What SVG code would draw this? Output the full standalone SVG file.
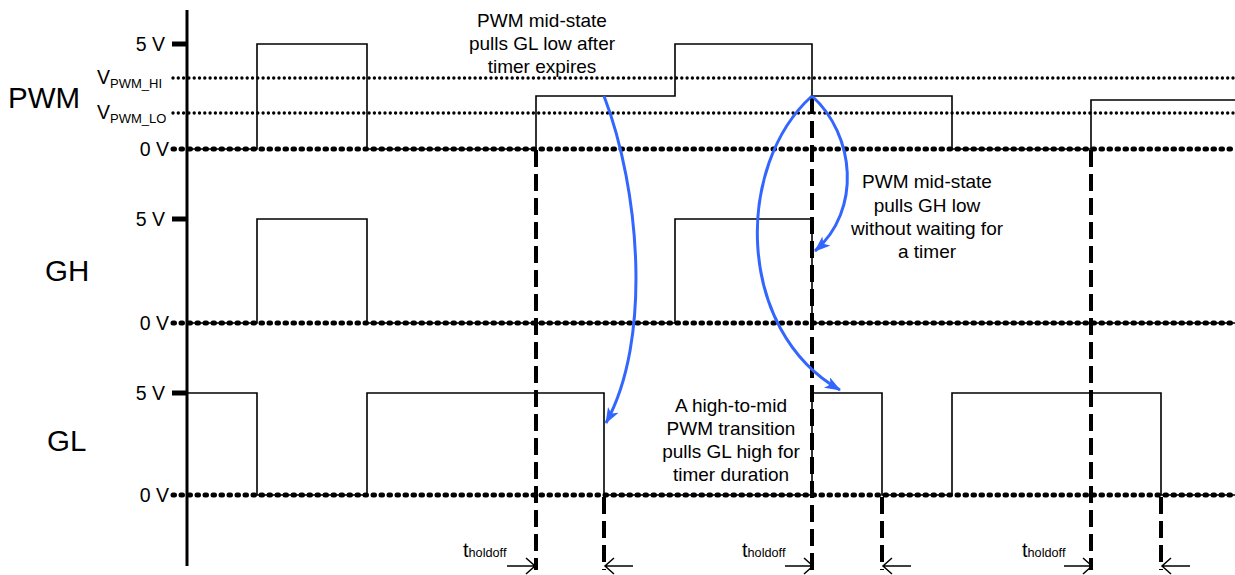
<svg xmlns="http://www.w3.org/2000/svg" width="1235" height="575" viewBox="0 0 1235 575">
<style>
text{font-family:"Liberation Sans",Arial,sans-serif;fill:#000}
.big{font-size:29.5px}
.lv{font-size:19.5px;text-anchor:end}
.note{font-size:19px;text-anchor:middle}
.sub{font-size:13px}
.thickdot{stroke:#000;stroke-width:5;stroke-dasharray:1.5 6.5;stroke-linecap:round;fill:none}
.thindot{stroke:#000;stroke-width:3.4;stroke-dasharray:0 5.3;stroke-linecap:round;fill:none}
.sig{stroke:#000;stroke-width:1.6;fill:none}
.dash{stroke:#000;stroke-width:4;stroke-dasharray:17 7;fill:none}
.tick{stroke:#000;stroke-width:5;fill:none}
.blue{stroke:#3366ff;stroke-width:3;fill:none;marker-end:url(#bh)}
.dim{stroke:#000;stroke-width:1.5;fill:none}
</style>
<defs>
<marker id="bh" markerUnits="userSpaceOnUse" markerWidth="18" markerHeight="14" refX="15" refY="6" orient="auto">
<path d="M0,0 L16,6 L0,12 L4,6 z" fill="#3366ff"/>
</marker>
</defs>

<g id="axis">
<line x1="187" y1="10" x2="187" y2="566" stroke="#000" stroke-width="3"/>
</g>

<g id="levels">
<line class="tick" x1="172" y1="44" x2="187" y2="44"/>
<line class="thindot" x1="173" y1="78" x2="1235" y2="78"/>
<line class="thindot" x1="173" y1="113" x2="1235" y2="113"/>
<line class="thickdot" x1="173" y1="149" x2="1235" y2="149"/>
<line class="tick" x1="172" y1="219" x2="187" y2="219"/>
<line class="thickdot" x1="173" y1="323" x2="1235" y2="323"/>
<line class="tick" x1="172" y1="393" x2="187" y2="393"/>
<line class="thickdot" x1="173" y1="495" x2="1235" y2="495"/>
</g>

<g id="level-labels">
<text class="lv" x="165" y="51">5 V</text>
<text x="97" y="84" style="font-size:19.5px">V<tspan class="sub" dy="4">PWM_HI</tspan></text>
<text x="97" y="119" style="font-size:19.5px">V<tspan class="sub" dy="4">PWM_LO</tspan></text>
<text class="lv" x="169" y="156">0 V</text>
<text class="lv" x="165" y="226">5 V</text>
<text class="lv" x="169" y="330">0 V</text>
<text class="lv" x="165" y="400">5 V</text>
<text class="lv" x="169" y="502">0 V</text>
</g>

<g id="node-PWM">
<text class="big" x="8" y="108">PWM</text>
<path class="sig" d="M187,149 H257 V44 H367 V149 H536 V96 H675 V44 H812 V96 H952 V149 H1091 V100 H1235"/>
</g>

<g id="node-GH">
<text class="big" x="45" y="281">GH</text>
<path class="sig" d="M187,323 H257 V219 H367 V323 H675 V219 H812 V323 H1235"/>
</g>

<g id="node-GL">
<text class="big" x="47" y="451">GL</text>
<path class="sig" d="M187,393 H257 V495 H367 V393 H604 V495 H812 V393 H882 V495 H952 V393 H1161 V495 H1235"/>
</g>

<g id="connectors">
<line class="dash" x1="536" y1="150" x2="536" y2="570"/>
<line class="dash" x1="604" y1="497" x2="604" y2="570"/>
<line class="dash" x1="812" y1="97" x2="812" y2="570"/>
<line class="dash" x1="882" y1="497" x2="882" y2="570"/>
<line class="dash" x1="1091" y1="150" x2="1091" y2="570"/>
<line class="dash" x1="1161" y1="497" x2="1161" y2="570"/>

<path class="dim" d="M507,566 H535 M526,558 L535,566 L526,574"/>
<path class="dim" d="M633,566 H605 M614,558 L605,566 L614,574"/>
<path class="dim" d="M785,566 H813 M804,558 L813,566 L804,574"/>
<path class="dim" d="M911,566 H883 M892,558 L883,566 L892,574"/>
<path class="dim" d="M1064,566 H1092 M1083,558 L1092,566 L1083,574"/>
<path class="dim" d="M1190,566 H1162 M1171,558 L1162,566 L1171,574"/>

<path class="blue" d="M604,96 C640,190 652,340 606,423"/>
<path class="blue" d="M812,96 C855,135 862,210 815,251"/>
<path class="blue" d="M812,96 C735,165 735,330 840,390"/>
</g>

<g id="timing-labels">
<text x="463" y="557" style="font-size:20px">t<tspan class="sub" style="font-size:12.7px">holdoff</tspan></text>
<text x="742" y="557" style="font-size:20px">t<tspan class="sub" style="font-size:12.7px">holdoff</tspan></text>
<text x="1022" y="557" style="font-size:20px">t<tspan class="sub" style="font-size:12.7px">holdoff</tspan></text>
</g>

<g id="notes">
<text class="note" x="542" y="27">PWM mid-state</text>
<text class="note" x="542" y="50">pulls GL low after</text>
<text class="note" x="542" y="73">timer expires</text>
<text class="note" x="927" y="188">PWM mid-state</text>
<text class="note" x="927" y="212">pulls GH low</text>
<text class="note" x="927" y="235">without waiting for</text>
<text class="note" x="927" y="258">a timer</text>
<text class="note" x="731" y="412">A high-to-mid</text>
<text class="note" x="731" y="435">PWM transition</text>
<text class="note" x="731" y="458">pulls GL high for</text>
<text class="note" x="731" y="481">timer duration</text>
</g>
</svg>
